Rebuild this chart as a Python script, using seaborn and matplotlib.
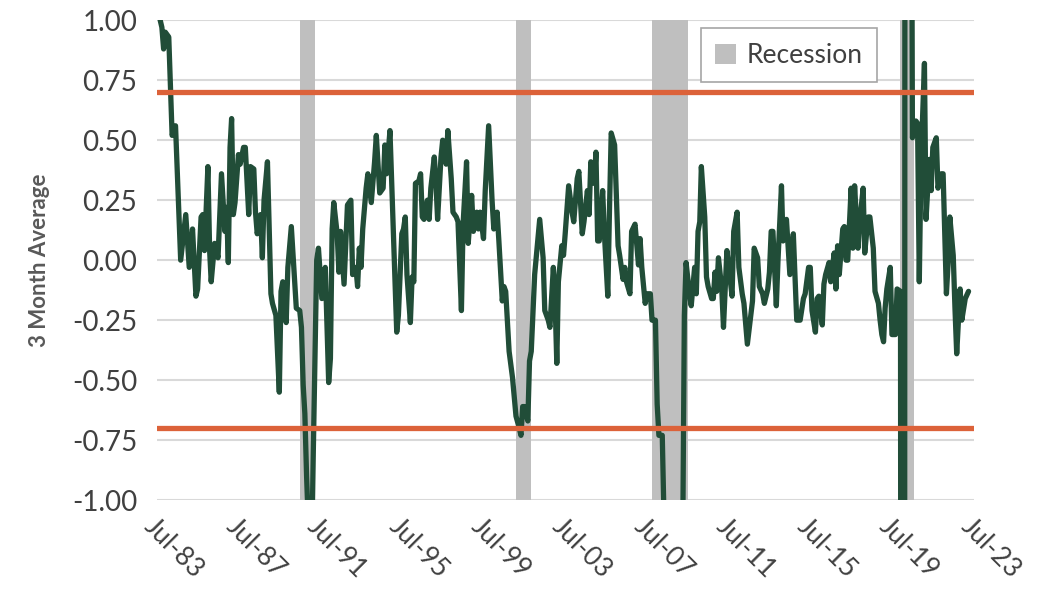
import pandas as pd
import numpy as np
import matplotlib
matplotlib.use("Agg")
import matplotlib.pyplot as plt
import matplotlib.dates as mdates
import seaborn as sns

#  Data 
# month index counted from Jul-1983, value of the 3 month average
month_idx = [
    2, 3, 4, 5, 6, 7, 9, 11, 14, 17, 19, 21, 23, 24, 26, 27, 28, 30, 31, 32,
    34, 36, 38, 40, 41, 42, 43, 44, 45, 46, 48, 49, 51, 52, 54, 55, 57, 58, 59, 61,
    62, 63, 65, 67, 68, 70, 72, 73, 74, 76, 77, 79, 82, 84, 85, 86, 87, 88, 89, 90,
    91, 92, 93, 94, 95, 97, 99, 101, 102, 103, 104, 106, 107, 108, 110, 112, 114, 115, 117, 118,
    119, 120, 121, 123, 124, 126, 128, 129, 131, 133, 134, 135, 137, 141, 142, 144, 145, 146, 147, 149,
    150, 151, 152, 154, 155, 156, 157, 159, 160, 161, 163, 164, 165, 167, 168, 170, 171, 173, 174, 176,
    177, 179, 180, 182, 183, 185, 186, 188, 189, 190, 192, 193, 195, 197, 198, 200, 201, 203, 204, 205,
    207, 209, 211, 213, 214, 215, 216, 218, 219, 220, 222, 225, 227, 228, 230, 231, 233, 234, 235, 236,
    238, 239, 240, 242, 244, 245, 247, 248, 250, 251, 253, 254, 255, 257, 258, 259, 260, 262, 263, 265,
    266, 267, 269, 271, 272, 274, 275, 276, 278, 279, 281, 283, 284, 285, 287, 288, 290, 291, 293, 294,
    295, 297, 298, 299, 302, 305, 308, 309, 310, 311, 313, 314, 316, 317, 318, 319, 320, 322, 323, 324,
    326, 327, 328, 329, 330, 332, 333, 335, 336, 338, 339, 341, 342, 344, 345, 347, 348, 350, 351, 353,
    354, 356, 357, 359, 360, 361, 362, 364, 365, 367, 368, 370, 372, 374, 376, 378, 380, 381, 383, 384,
    385, 387, 388, 389, 391, 392, 393, 395, 396, 398, 399, 400, 401, 403, 404, 405, 406, 408, 409, 410,
    412, 413, 415, 416, 418, 419, 421, 422, 424, 425, 426, 427, 428, 429, 431, 432, 434, 435, 437, 438,
    439, 440, 441, 442, 443, 444, 446, 447, 448, 449, 451, 452, 454, 455, 456, 458, 459, 461, 462, 464,
    465, 466, 468, 469, 470, 472, 473, 475, 477,
]
avg_3m = [
    1.00, 0.97, 0.88, 0.95, 0.94, 0.93, 0.52, 0.56, 0.00, 0.19, -0.03, 0.13, -0.15, -0.12, 0.18, 0.19, 0.04, 0.39, 0.04, -0.09,
    0.07, 0.01, 0.36, 0.12, 0.22, -0.01, 0.47, 0.59, 0.19, 0.24, 0.44, 0.40, 0.47, 0.47, 0.19, 0.39, 0.38, 0.20, 0.11, 0.19,
    0.01, 0.25, 0.41, -0.14, -0.18, -0.23, -0.55, -0.13, -0.09, -0.26, -0.03, 0.14, -0.20, -0.21, -0.28, -0.52, -0.64, -0.90, -1.10, -1.30,
    -1.20, -0.80, -0.40, 0.00, 0.05, -0.16, -0.03, -0.51, -0.41, 0.13, 0.24, 0.11, -0.05, 0.12, -0.10, 0.23, 0.25, -0.06, -0.03, -0.11,
    0.05, -0.03, 0.13, 0.30, 0.36, 0.24, 0.41, 0.52, 0.28, 0.30, 0.48, 0.36, 0.54, -0.30, -0.23, 0.11, 0.13, 0.18, -0.06, -0.26,
    -0.07, -0.09, 0.32, 0.33, 0.36, 0.18, 0.17, 0.25, 0.17, 0.30, 0.43, 0.33, 0.17, 0.43, 0.50, 0.40, 0.54, 0.34, 0.20, 0.18,
    0.16, -0.21, 0.15, 0.41, 0.07, 0.27, 0.12, 0.20, 0.13, 0.20, 0.09, 0.29, 0.56, 0.25, 0.13, 0.20, 0.08, -0.17, -0.11, -0.13,
    -0.38, -0.49, -0.65, -0.70, -0.73, -0.61, -0.61, -0.67, -0.42, -0.38, -0.06, 0.17, 0.01, -0.21, -0.25, -0.28, -0.03, -0.17, -0.43, -0.09,
    0.06, 0.02, 0.11, 0.31, 0.20, 0.16, 0.34, 0.37, 0.11, 0.16, 0.29, 0.19, 0.41, 0.32, 0.45, 0.08, 0.08, 0.29, 0.11, -0.15,
    0.22, 0.53, 0.48, 0.06, 0.02, -0.08, -0.03, -0.09, -0.14, 0.12, 0.15, -0.02, 0.09, -0.03, -0.18, -0.14, -0.14, -0.25, -0.25, -0.60,
    -0.73, -0.73, -1.05, -1.40, -1.90, -2.00, -1.60, -1.20, -0.23, -0.01, -0.14, -0.19, -0.03, -0.14, 0.12, 0.16, 0.39, 0.18, -0.07, -0.11,
    -0.16, -0.16, -0.05, -0.13, 0.01, -0.12, -0.28, 0.04, -0.02, -0.15, 0.12, 0.20, -0.03, -0.14, -0.18, -0.35, -0.29, -0.17, 0.05, 0.01,
    -0.11, -0.14, -0.18, -0.12, -0.05, 0.12, 0.12, -0.19, 0.00, 0.31, 0.08, 0.17, -0.06, 0.11, -0.25, -0.25, -0.16, -0.14, -0.03, -0.03,
    -0.21, -0.30, -0.16, -0.15, -0.27, -0.10, -0.06, -0.01, -0.09, 0.03, -0.12, 0.06, -0.06, 0.13, 0.14, 0.00, 0.00, 0.30, 0.05, 0.31,
    0.05, 0.16, 0.30, 0.03, 0.18, 0.18, 0.05, -0.13, -0.18, -0.25, -0.31, -0.34, -0.20, -0.12, -0.03, -0.31, -0.31, -0.12, -0.13, -10.0,
    -10.0, 10.0, 10.0, 10.0, 3.00, 0.51, 0.58, 0.57, -0.09, 0.40, 0.82, 0.17, 0.42, 0.29, 0.47, 0.51, 0.30, 0.36, 0.36, -0.14,
    -0.01, 0.18, 0.02, -0.20, -0.39, -0.12, -0.25, -0.16, -0.13,
]

# recession shading (as drawn on the chart)
rec_start = ["1990-07-01", "2001-02-01", "2007-10-01", "2019-11-15"]
rec_end = ["1991-04-01", "2001-11-01", "2009-07-01", "2020-08-01"]

threshold = 0.7
tick_years = list(range(1983, 2024, 4))

start = pd.Period("1983-07", freq="M")
df = pd.DataFrame({
    "date": [(start + m).to_timestamp() for m in month_idx],
    "avg": avg_3m,
})

#  Plot 
sns.set_theme(style="whitegrid")
plt.rcParams["font.family"] = ["Lato", "DejaVu Sans"]

fig, ax = plt.subplots(figsize=(10.38, 5.94), dpi=100)
fig.subplots_adjust(left=0.151, right=0.938, top=0.966, bottom=0.158)

for i, (s, e) in enumerate(zip(rec_start, rec_end)):
    ax.axvspan(pd.Timestamp(s), pd.Timestamp(e), color="#BFBFBF", lw=0, zorder=1,
               label="Recession" if i == 0 else None)

sns.lineplot(data=df, x="date", y="avg", ax=ax, color="#214D38", lw=3.8, zorder=3,
             solid_joinstyle="round", solid_capstyle="round")

for t in (threshold, -threshold):
    ax.axhline(t, color="#DC6239", lw=3.8, zorder=4, solid_capstyle="round")

ax.set_ylim(-1, 1)
ax.set_yticks(np.arange(-1, 1.01, 0.25))
ax.yaxis.set_major_formatter(matplotlib.ticker.FormatStrFormatter("%.2f"))
ax.set_xlim(pd.Timestamp("1983-07-01"), pd.Timestamp("2023-07-01"))
ax.set_xticks([pd.Timestamp(f"{y}-07-01") for y in tick_years])
ax.xaxis.set_major_formatter(mdates.DateFormatter("%b-%y"))
ax.grid(axis="x", visible=False)
ax.grid(axis="y", color="#D9D9D9", lw=1.5)
ax.set_axisbelow(True)
for sp in ax.spines.values():
    sp.set_visible(False)

ax.tick_params(axis="y", labelsize=20, labelcolor="#404040", pad=14, length=0)
ax.tick_params(axis="x", labelsize=19, labelcolor="#404040", pad=10, length=0)
for lbl in ax.get_xticklabels():
    lbl.set_rotation(-45)
    lbl.set_ha("left")
    lbl.set_va("top")
    lbl.set_rotation_mode("anchor")

ax.set_xlabel("")
ax.set_ylabel("3 Month Average", fontsize=16, fontweight="bold", color="#595959", labelpad=16)

leg = ax.legend(loc="upper right", bbox_to_anchor=(0.882, 0.983), borderaxespad=0,
                fontsize=19, frameon=True, fancybox=False, edgecolor="#A6A6A6", framealpha=1,
                handlelength=0.8, handleheight=0.8, borderpad=0.55, handletextpad=0.4)
leg.get_frame().set_linewidth(1.2)
for txt in leg.get_texts():
    txt.set_color("#404040")

fig.savefig("out.png", dpi=100)
